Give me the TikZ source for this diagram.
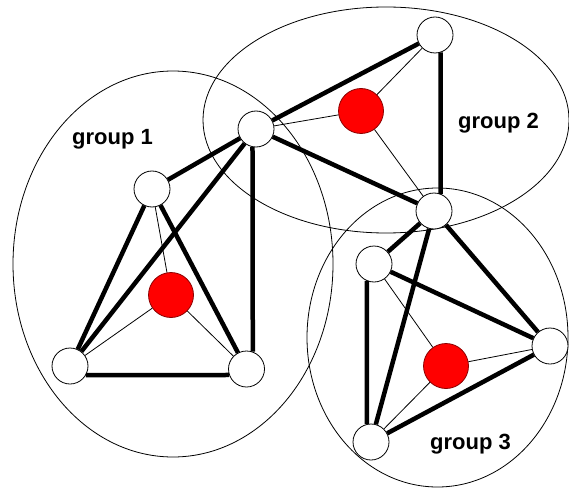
\documentclass[tikz,border=0pt]{standalone}
\usepackage{fontspec}
\setmainfont{Liberation Sans}
\begin{document}
\begin{tikzpicture}[x=1pt,y=-1pt,
  vtx/.style={circle,draw=black,line width=0.8pt,fill=white,minimum size=36pt,inner sep=0pt},
  hub/.style={circle,draw=red!55!black,line width=0.8pt,fill=red,minimum size=45pt,inner sep=0pt},
  grp/.style={draw=black,line width=0.8pt},
  link/.style={line width=4.5pt},
  spoke/.style={line width=0.8pt},
  lbl/.style={font=\bfseries\fontsize{22}{22}\selectfont,anchor=base west,inner sep=0pt}]
\useasboundingbox (0,0) rectangle (569,489);
% group outlines
\draw[grp] (173,264) ellipse [x radius=160pt, y radius=193pt];
\draw[grp] (386,120) ellipse [x radius=183pt, y radius=113pt];
\draw[grp] (437.5,337.5) ellipse [x radius=130.5pt, y radius=149.5pt];
% nodes
\node[vtx] (A) at (256,129) {};
\node[vtx] (B) at (152,189) {};
\node[vtx] (C) at (70,366) {};
\node[vtx] (D) at (246.5,369) {};
\node[hub] (R1) at (171,295) {};
\node[vtx] (E) at (435,35) {};
\node[vtx] (F) at (434,211) {};
\node[hub] (R2) at (361,111) {};
\node[vtx] (G) at (374,264) {};
\node[vtx] (H) at (550,346) {};
\node[vtx] (I) at (371,442) {};
\node[hub] (R3) at (446,366) {};
% thin spokes
\draw[spoke] (B) -- (R1);
\draw[spoke] (C) -- (R1);
\draw[spoke] (D) -- (R1);
\draw[spoke] (A) -- (R2);
\draw[spoke] (E) -- (R2);
\draw[spoke] (F) -- (R2);
\draw[spoke] (G) -- (R3);
\draw[spoke] (H) -- (R3);
\draw[spoke] (I) -- (R3);
% thick links
\draw[link] (A) -- (B);
\draw[link] (A) -- (C);
\draw[link] (A.259) -- (D.70.5);
\draw[link] (B) -- (C);
\draw[link] (B) -- (D);
\draw[link] (C.-30) -- (D.199.5);
\draw[link] (A) -- (E);
\draw[link] (A) -- (F);
\draw[link] (E.-72) -- (F.69);
\draw[link] (F) -- (G);
\draw[link] (F) -- (I);
\draw[link] (F) -- (H);
\draw[link] (G) -- (H);
\draw[link] (G.247) -- (I.103);
\draw[link] (H) -- (I);
% labels
\node[lbl] (L1) at (72,145) {group 1};
\node[lbl] (L2) at (458,129) {group 2};
\node[lbl] (L3) at (430,449) {group 3};
\end{tikzpicture}
\end{document}
